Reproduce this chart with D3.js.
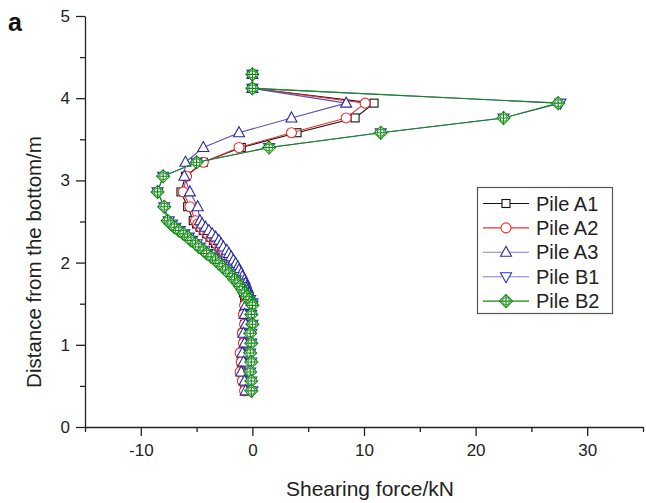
<!DOCTYPE html>
<html><head><meta charset="utf-8">
<script src="https://cdn.jsdelivr.net/npm/d3@7"></script>
<style>body{margin:0;background:#fff}svg{display:block}text{font-family:"Liberation Sans",Arial,sans-serif}</style>
</head><body><svg id="c" width="646" height="503"></svg>
<script>
// Depth levels (m) shared by all piles
const depthTop = [4.29, 4.12, 3.94, 3.76, 3.58, 3.40, 3.22, 3.05, 2.86, 2.68, 2.51];
const depthDense = [2.47, 2.43, 2.39, 2.35, 2.31, 2.27, 2.23, 2.19, 2.15, 2.11, 2.07, 2.03, 1.99, 1.95, 1.91, 1.87, 1.83, 1.79, 1.75, 1.71, 1.67, 1.63, 1.59, 1.55, 1.51];
const depthLow = [1.48, 1.37, 1.25, 1.14, 1.02, 0.90, 0.79, 0.67, 0.56, 0.44];

// Shearing force (kN) per pile
const pileA1 = [0, 0, 10.9, 9.2, 4.0, -1.0, -4.4, -6.0, -6.4, -5.8, -5.3,
  -5.0, -4.7, -4.4, -4.1, -3.8, -3.5, -3.3, -3.0, -2.8, -2.6, -2.4, -2.2, -2.0, -1.8, -1.6, -1.5, -1.3, -1.2, -1.1, -1.0, -0.9, -0.8, -0.7, -0.6, -0.6,
  -0.7, -0.8, -0.7, -0.9, -0.8, -1.0, -1.0, -1.0, -0.8, -0.7];
const pileA2 = [0, 0, 10.1, 8.4, 3.5, -1.2, -4.4, -5.9, -6.2, -5.6, -5.1,
  -4.9, -4.6, -4.3, -4.0, -3.7, -3.4, -3.2, -2.9, -2.7, -2.5, -2.3, -2.1, -1.9, -1.7, -1.5, -1.4, -1.2, -1.1, -1.0, -0.9, -0.8, -0.7, -0.6, -0.5, -0.5,
  -0.7, -0.8, -0.7, -0.9, -0.8, -1.1, -1.0, -1.1, -0.9, -0.7];
const pileA3 = [0, 0, 8.4, 3.5, -1.2, -4.4, -6.0, -6.1, -5.6, -4.9, -4.7,
  -4.5, -4.2, -3.9, -3.6, -3.3, -3.0, -2.8, -2.6, -2.3, -2.1, -1.9, -1.7, -1.5, -1.3, -1.2, -1.0, -0.9, -0.7, -0.6, -0.5, -0.4, -0.3, -0.3, -0.2, -0.2,
  -0.6, -0.7, -0.6, -0.8, -0.7, -0.9, -0.8, -1.0, -0.7, -0.6];
const pileB1 = [0, 0, 27.6, 22.5, 11.5, 1.5, -5.0, -8.0, -8.5, -7.9, -7.5,
  -7.2, -6.9, -6.5, -6.1, -5.7, -5.4, -5.0, -4.7, -4.3, -4.0, -3.6, -3.2, -2.9, -2.6, -2.3, -2.0, -1.7, -1.5, -1.2, -1.0, -0.8, -0.6, -0.4, -0.2, 0.0,
  0.0, -0.1, 0.0, -0.1, -0.1, -0.2, -0.1, -0.2, -0.1, 0.0];
const pileB2 = [0, 0, 27.4, 22.5, 11.5, 1.5, -5.0, -8.0, -8.5, -7.9, -7.6,
  -7.3, -7.0, -6.6, -6.2, -5.8, -5.5, -5.1, -4.8, -4.4, -4.1, -3.7, -3.3, -3.0, -2.7, -2.4, -2.1, -1.8, -1.6, -1.3, -1.1, -0.9, -0.7, -0.5, -0.3, -0.1,
  0.0, -0.1, 0.0, -0.2, -0.1, -0.2, -0.1, -0.2, -0.1, -0.1];

const seriesNames = ["Pile A1", "Pile A2", "Pile A3", "Pile B1", "Pile B2"];
const xTicks = [-10, 0, 10, 20, 30];
const xMinorTicks = [-15, -5, 5, 15, 25, 35];
const yTicks = [0, 1, 2, 3, 4, 5];
const yMinorTicks = [0.5, 1.5, 2.5, 3.5, 4.5];

const depths = depthTop.concat(depthDense, depthLow);
const values = [pileA1, pileA2, pileA3, pileB1, pileB2];
const styles = [
  {line: "#111", mark: "#111", shape: "square"},
  {line: "#ee3030", mark: "#ee3030", shape: "circle"},
  {line: "#5a50b0", mark: "#2a2a9a", shape: "up"},
  {line: "#6060c8", mark: "#3030c0", shape: "down"},
  {line: "#138a13", mark: "#138a13", shape: "diamond"}
];

const svg = d3.select("#c");
const x = d3.scaleLinear().domain([-15, 35]).range([85, 643]);
const y = d3.scaleLinear().domain([0, 5]).range([427, 16]);
const fmt = d => String(d);

// axes
const gx = svg.append("g").attr("transform", `translate(0,${y(0)})`)
  .call(d3.axisBottom(x).tickValues(xTicks).tickSize(9).tickSizeOuter(0).tickPadding(8).tickFormat(fmt));
svg.append("g").attr("transform", `translate(0,${y(0)})`)
  .call(d3.axisBottom(x).tickValues(xMinorTicks).tickSize(5).tickSizeOuter(0).tickFormat(""))
  .select(".domain").remove();
const gy = svg.append("g").attr("transform", `translate(${x(-15)},0)`)
  .call(d3.axisLeft(y).tickValues(yTicks).tickSize(9).tickSizeOuter(0).tickPadding(6).tickFormat(fmt));
svg.append("g").attr("transform", `translate(${x(-15)},0)`)
  .call(d3.axisLeft(y).tickValues(yMinorTicks).tickSize(5).tickSizeOuter(0).tickFormat(""))
  .select(".domain").remove();
svg.selectAll(".domain, .tick line").attr("stroke", "#222").attr("stroke-width", 1.3);
gx.selectAll("text").attr("font-size", 17).attr("fill", "#222").attr("font-family", "Liberation Sans, Arial");
gy.selectAll("text").attr("font-size", 17).attr("fill", "#222").attr("font-family", "Liberation Sans, Arial");

svg.append("text").attr("x", 370).attr("y", 496).attr("text-anchor", "middle")
  .attr("font-size", 21).attr("fill", "#222").text("Shearing force/kN");
svg.append("text").attr("transform", "translate(41,262) rotate(-90)").attr("text-anchor", "middle")
  .attr("font-size", 20.5).attr("fill", "#222").text("Distance from the bottom/m");
svg.append("text").attr("x", 8).attr("y", 31).attr("font-size", 25).attr("font-weight", "bold")
  .attr("fill", "#111").text("a");

function drawMarker(g, shape, color) {
  const sw = 1.1;
  if (shape === "square") {
    g.append("rect").attr("x", -4).attr("y", -4).attr("width", 8).attr("height", 8)
      .attr("fill", "#fff").attr("stroke", color).attr("stroke-width", sw);
  } else if (shape === "circle") {
    g.append("circle").attr("r", 5).attr("fill", "#fff").attr("stroke", color).attr("stroke-width", sw);
  } else if (shape === "up") {
    g.append("path").attr("d", "M0,-6L5.5,4L-5.5,4Z").attr("fill", "#fff").attr("stroke", color).attr("stroke-width", sw);
  } else if (shape === "down") {
    g.append("path").attr("d", "M0,6L5.5,-4L-5.5,-4Z").attr("fill", "#fff").attr("stroke", color).attr("stroke-width", sw);
  } else {
    g.append("path").attr("d", "M0,-6.5L6.5,0L0,6.5L-6.5,0Z").attr("fill", "#fff").attr("stroke", color).attr("stroke-width", sw);
    g.append("circle").attr("r", 3.6).attr("fill", "none").attr("stroke", color).attr("stroke-width", 0.9);
    g.append("path").attr("d", "M0,-6.5V6.5M-6.5,0H6.5").attr("stroke", color).attr("stroke-width", sw);
  }
}

const line = d3.line().x(d => x(d[0])).y(d => y(d[1]));
values.forEach((vals, i) => {
  const pts = vals.map((v, k) => [v, depths[k]]);
  const st = styles[i];
  const g = svg.append("g");
  g.append("path").attr("d", line(pts)).attr("fill", "none").attr("stroke", st.line).attr("stroke-width", 1.1);
  pts.forEach(p => {
    const m = g.append("g").attr("transform", `translate(${x(p[0])},${y(p[1])})`);
    drawMarker(m, st.shape, st.mark);
  });
});

// legend
const lg = svg.append("g");
lg.append("rect").attr("x", 477.5).attr("y", 187.5).attr("width", 135).attr("height", 126)
  .attr("fill", "#fff").attr("stroke", "#555").attr("stroke-width", 1.2);
seriesNames.forEach((name, i) => {
  const cy = 203.5 + i * 24.4;
  const st = styles[i];
  lg.append("line").attr("x1", 483).attr("x2", 529).attr("y1", cy).attr("y2", cy)
    .attr("stroke", i === 2 || i === 3 ? "#8080c8" : st.line).attr("stroke-width", 1.1);
  drawMarker(lg.append("g").attr("transform", `translate(506,${cy})`), st.shape, st.mark);
  lg.append("text").attr("x", 536).attr("y", cy + 7).attr("font-size", 20).attr("fill", "#222").text(name);
});
</script></body></html>
